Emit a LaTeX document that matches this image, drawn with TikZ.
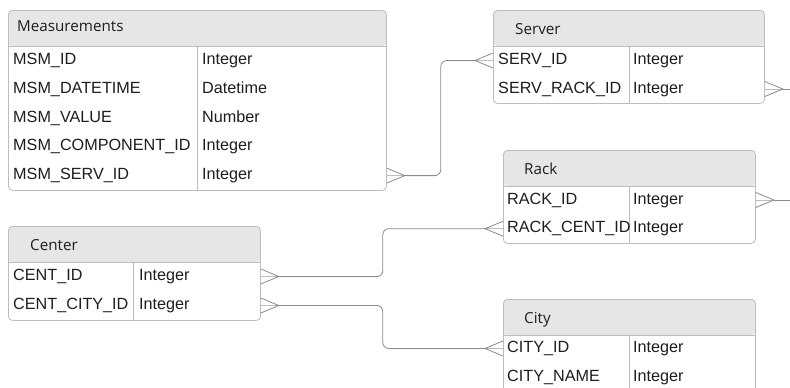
\documentclass[tikz,border=0pt]{standalone}
\usepackage{fontspec}
\setmainfont{Liberation Sans}
\newfontfamily\headfont{Open Sans}
\usepackage{tikz}

\definecolor{edgegray}{HTML}{BDBDBD}
\definecolor{headgray}{HTML}{E6E6E6}
\definecolor{linkgray}{HTML}{8A8A8A}
\definecolor{inkgray}{HTML}{1E1E1E}

\begin{document}
\begin{tikzpicture}[x=1pt, y=-1pt,
  tbl/.style={draw=edgegray, line width=0.8pt, rounded corners=4pt, fill=white,
    anchor=north west, inner sep=0pt,
    path picture={\fill[headgray] (path picture bounding box.north west)
      rectangle ([yshift=-36pt]path picture bounding box.north east);}},
  rule/.style={draw=edgegray, line width=0.8pt},
  hdr/.style={anchor=base west, inner sep=0pt, text=inkgray,
    font=\headfont\fontsize{15.2}{18}\selectfont},
  field/.style={anchor=west, inner sep=0pt, text=inkgray, text height=11.5pt,
    text depth=3.5pt, font=\fontsize{16.2}{19}\selectfont},
  foot/.style={draw=linkgray, line width=0.8pt},
  midprong/.style={draw=edgegray, line width=0.8pt},
  link/.style={draw=linkgray, line width=0.8pt, rounded corners=6pt}]

\useasboundingbox (0,0) rectangle (790,388);
\clip (0,0) rectangle (790,388);

% Measurements
\node[tbl, minimum width=378pt, minimum height=180pt] (msm) at (8,10) {};
\draw[rule] ([yshift=-36pt]msm.north west) -- ([yshift=-36pt]msm.north east);
\draw[rule] (197,46) -- (197,190);
\node[hdr] (msmtitle) at (17,31) {Measurements};
\node[field] (msmid) at (13,60.4) {MSM\_ID};
\node[field] (msmidtype) at (202,60.4) {Integer};
\node[field] (msmdate) at (13,89.2) {MSM\_DATETIME};
\node[field] (msmdatetype) at (202,89.2) {Datetime};
\node[field] (msmvalue) at (13,118) {MSM\_VALUE};
\node[field] (msmvaluetype) at (202,118) {Number};
\node[field] (msmcomp) at (13,146.8) {MSM\_COMPONENT\_ID};
\node[field] (msmcomptype) at (202,146.8) {Integer};
\node[field] (msmserv) at (13,175.6) {MSM\_SERV\_ID};
\node[field] (msmservtype) at (202,175.6) {Integer};

% Server
\node[tbl, minimum width=271pt, minimum height=93pt] (serv) at (493,10) {};
\draw[rule] ([yshift=-36pt]serv.north west) -- ([yshift=-36pt]serv.north east);
\draw[rule] (629,46) -- (629,103);
\node[hdr] (servtitle) at (515,34.7) {Server};
\node[field] (servid) at (498,60.5) {SERV\_ID};
\node[field] (servidtype) at (633,60.5) {Integer};
\node[field] (servrack) at (498,89) {SERV\_RACK\_ID};
\node[field] (servracktype) at (633,89) {Integer};

% Rack
\node[tbl, minimum width=252pt, minimum height=93pt] (rack) at (503,150) {};
\draw[rule] ([yshift=-36pt]rack.north west) -- ([yshift=-36pt]rack.north east);
\draw[rule] (629,186) -- (629,243);
\node[hdr] (racktitle) at (524,174.3) {Rack};
\node[field] (rackid) at (507,200) {RACK\_ID};
\node[field] (rackidtype) at (633,200) {Integer};
\node[field] (rackcent) at (507,228.7) {RACK\_CENT\_ID};
\node[field] (rackcenttype) at (633,228.7) {Integer};

% Center
\node[tbl, minimum width=252pt, minimum height=94pt] (cent) at (8,226) {};
\draw[rule] ([yshift=-36pt]cent.north west) -- ([yshift=-36pt]cent.north east);
\draw[rule] (133.5,262) -- (133.5,320);
\node[hdr] (centtitle) at (30,250.7) {Center};
\node[field] (centid) at (13,276.5) {CENT\_ID};
\node[field] (centidtype) at (139,276.5) {Integer};
\node[field] (centcity) at (13,305.5) {CENT\_CITY\_ID};
\node[field] (centcitytype) at (139,305.5) {Integer};

% City
\node[tbl, minimum width=252pt, minimum height=93pt] (city) at (503,299) {};
\draw[rule] ([yshift=-36pt]city.north west) -- ([yshift=-36pt]city.north east);
\draw[rule] (629,335) -- (629,392);
\node[hdr] (citytitle) at (524,323) {City};
\node[field] (cityid) at (507,348.5) {CITY\_ID};
\node[field] (cityidtype) at (633,348.5) {Integer};
\node[field] (cityname) at (507,377) {CITY\_NAME};
\node[field] (citynametype) at (633,377) {Integer};

% ports
\coordinate (msmport) at (msm.east |- msmserv);
\coordinate (servinport) at (serv.west |- servid);
\coordinate (servoutport) at (serv.east |- servrack);
\coordinate (rackinport) at (rack.west |- rackcent);
\coordinate (rackoutport) at (rack.east |- rackid);
\coordinate (centidport) at (cent.east |- centid);
\coordinate (centcityport) at (cent.east |- centcity);
\coordinate (cityinport) at (city.west |- cityid);

% crow's feet
\draw[midprong] (msmport) -- ++(18,0);
\draw[foot] ([yshift=7.5pt]msmport) -- ++(18,7.5) -- ++(-18,7.5);
\draw[midprong] (servoutport) -- ++(18,0);
\draw[foot] ([yshift=7.5pt]servoutport) -- ++(18,7.5) -- ++(-18,7.5);
\draw[midprong] (rackoutport) -- ++(18,0);
\draw[foot] ([yshift=7.5pt]rackoutport) -- ++(18,7.5) -- ++(-18,7.5);
\draw[midprong] (centidport) -- ++(18,0);
\draw[foot] ([yshift=7.5pt]centidport) -- ++(18,7.5) -- ++(-18,7.5);
\draw[midprong] (centcityport) -- ++(18,0);
\draw[foot] ([yshift=7.5pt]centcityport) -- ++(18,7.5) -- ++(-18,7.5);
\draw[midprong] (servinport) -- ++(-18,0);
\draw[foot] ([yshift=7.5pt]servinport) -- ++(-18,7.5) -- ++(18,7.5);
\draw[midprong] (rackinport) -- ++(-18,0);
\draw[foot] ([yshift=7.5pt]rackinport) -- ++(-18,7.5) -- ++(18,7.5);
\draw[midprong] (cityinport) -- ++(-18,0);
\draw[foot] ([yshift=7.5pt]cityinport) -- ++(-18,7.5) -- ++(18,7.5);

% links
\draw[link] (msmport) ++(18,0) -- ++(36,0) |- ([xshift=-18pt]servinport);
\draw[link] (centidport) ++(18,0) -- ++(104,0) |- ([xshift=-18pt]rackinport);
\draw[link] (centcityport) ++(18,0) -- ++(104,0) |- ([xshift=-18pt]cityinport);
\draw[link] (servoutport) ++(18,0) -- ++(30,0);
\draw[link] (rackoutport) ++(18,0) -- ++(30,0);
\end{tikzpicture}
\end{document}
